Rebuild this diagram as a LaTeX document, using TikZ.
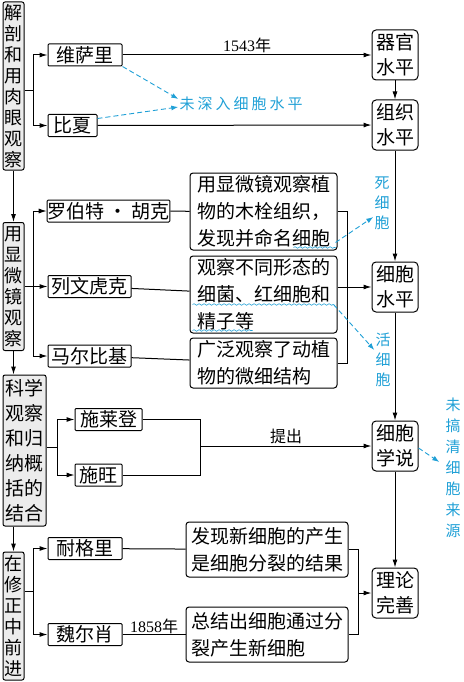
\documentclass[tikz,border=0pt]{standalone}
\usepackage{fontspec}
\setmainfont{Noto Sans CJK SC}
\newfontfamily\numfont{Liberation Serif}
\newfontfamily\notefont[LetterSpace=20]{Noto Sans CJK SC}
\usetikzlibrary{arrows.meta,calc,decorations.pathmorphing}
\definecolor{notecol}{RGB}{32,160,214}

\tikzset{
  colbox/.style={draw,line width=1pt,rounded corners=2pt,fill=gray!15,inner sep=0pt,align=center,minimum width=21pt,font=\fontsize{18}{21}\selectfont},
  namebox/.style={draw,line width=1pt,rounded corners=1pt,inner sep=0pt,minimum height=22pt,font=\fontsize{19}{22}\selectfont},
  descbox/.style={draw,line width=1pt,rounded corners=3pt,inner sep=0pt,align=left,minimum width=147pt,font=\fontsize{19}{27}\selectfont},
  lvlbox/.style={draw,line width=1pt,rounded corners=4pt,inner sep=0pt,align=center,minimum width=46pt,minimum height=50pt,font=\fontsize{19}{25}\selectfont},
  notetext/.style={text=notecol,font=\notefont\fontsize{15}{20}\selectfont,align=center,inner sep=1pt},
  lbl/.style={font=\fontsize{16}{18}\selectfont,inner sep=2pt},
  link/.style={line width=1pt},
  arr/.style={line width=1pt,-{Latex[length=8pt,width=5pt]}},
  hint/.style={notecol,line width=0.9pt,dash pattern=on 5pt off 3pt,-{Latex[length=7pt,width=5pt]}},
  wave/.style={notecol,line width=0.6pt,decorate,decoration={snake,amplitude=0.8pt,segment length=5pt}},
}

\begin{document}
\begin{tikzpicture}[x=1pt,y=-1pt]
\useasboundingbox (0,0) rectangle (463,682);

% left column
\node[colbox,minimum height=168pt] (eye) at (13.5,86) {解\\剖\\和\\用\\肉\\眼\\观\\察};
\node[colbox,minimum height=128pt] (scope) at (13.5,286.5) {用\\显\\微\\镜\\观\\察};
\node[colbox,minimum height=151pt,minimum width=43pt,font=\fontsize{19}{25}\selectfont] (induct) at (24.5,450.5) {科学\\观察\\和归\\纳概\\括的\\结合};
\node[colbox,minimum height=128pt] (revise) at (13.5,616) {在\\修\\正\\中\\前\\进};

\draw[arr] (eye) -- (scope);
\draw[arr] (scope.south) -- (scope.south |- induct.north);
\draw[arr] (revise.north |- induct.south) -- (revise);

% scientists
\node[namebox,minimum width=74pt] (vesal) at (85,55) {维萨里};
\node[namebox,minimum width=49pt] (bichat) at (72.5,125.5) {比夏};
\node[namebox,minimum width=121pt] (hooke) at (108.5,211) {罗伯特 · 胡克};
\node[namebox,minimum width=83pt] (leeuw) at (89.5,286.5) {列文虎克};
\node[namebox,minimum width=83pt] (malpi) at (89.5,356) {马尔比基};
\node[namebox,minimum width=67pt] (schleiden) at (108.5,419.5) {施莱登};
\node[namebox,minimum width=47pt] (schwann) at (98.5,475) {施旺};
\node[namebox,minimum width=74pt] (naegeli) at (85,548.5) {耐格里};
\node[namebox,minimum width=74pt] (virchow) at (85,634.5) {魏尔肖};

% findings
\node[descbox,minimum height=77pt] (dHooke) at (263.5,211.5) {用显微镜观察植\\物的木栓组织，\\发现并命名细胞};
\node[descbox,minimum height=77pt] (dLeeuw) at (263.5,294.5) {观察不同形态的\\细菌、红细胞和\\精子等};
\node[descbox,minimum height=50pt] (dMalpi) at (263.5,363) {广泛观察了动植\\物的微细结构};
\node[descbox,minimum height=55pt,minimum width=162pt] (dNaegeli) at (267,549.5) {发现新细胞的产生\\是细胞分裂的结果};
\node[descbox,minimum height=55pt,minimum width=162pt] (dVirchow) at (267,634.5) {总结出细胞通过分\\裂产生新细胞};

% levels
\node[lvlbox] (organ) at (395,55) {器官\\水平};
\node[lvlbox] (tissue) at (395,125) {组织\\水平};
\node[lvlbox] (cell) at (395,287) {细胞\\水平};
\node[lvlbox] (theory) at (395,446) {细胞\\学说};
\node[lvlbox] (refined) at (395,593) {理论\\完善};

\draw[arr] (organ) -- (tissue);
\draw[arr] (tissue) -- (cell);
\draw[arr] (cell) -- (theory);
\draw[arr] (theory) -- (refined);

% branches
\coordinate (j1) at ($(eye.east |- vesal)!0.5!(eye.east |- bichat)+(9,0)$);
\draw[link] (eye.east |- j1) -- (j1);
\draw[arr] (j1) |- (vesal);
\draw[arr] (j1) |- (bichat);

\draw[link] (scope.east) -- ++(9,0) coordinate (j2);
\draw[arr] (j2) |- (hooke);
\draw[arr] (j2) -- (leeuw);
\draw[arr] (j2) |- (malpi);

\coordinate (j3) at ($(induct.east |- schleiden)!0.5!(induct.east |- schwann)+(11,0)$);
\draw[link] (induct.east |- j3) -- (j3);
\draw[arr] (j3) |- (schleiden);
\draw[arr] (j3) |- (schwann);

\coordinate (j4) at ($(revise.east |- naegeli)!0.5!(revise.east |- virchow)+(9,0)$);
\draw[link] (revise.east |- j4) -- (j4);
\draw[arr] (j4) |- (naegeli);
\draw[arr] (j4) |- (virchow);

% to the levels
\draw[arr] (vesal) -- node[above,lbl]{{\numfont 1543}年} (organ);
\draw[arr] (bichat) -- (tissue);

\draw[link] (hooke) -- (dHooke);
\draw[link] (leeuw) -- (dLeeuw);
\draw[link] (malpi) -- (dMalpi);
\draw[link] (dHooke.east) -- ++(10,0) coordinate (k1) |- (dMalpi.east);
\draw[arr] (dLeeuw.east |- cell) -- (cell);

\draw[link] (schleiden.east) -- ++(58,0) coordinate (k2) |- (schwann.east);
\draw[arr] (k2 |- theory) -- node[above,lbl]{提出} (theory);

\draw[link] (naegeli) -- (dNaegeli);
\draw[link] (virchow) -- node[above,lbl,inner sep=0.5pt]{{\numfont 1858}年} (dVirchow);
\draw[link] (dNaegeli.east) -- ++(10,0) coordinate (k3) |- (dVirchow.east);
\draw[arr] (k3 |- refined) -- (refined);

% blue remarks
\node[notetext] (nLevel) at (241,104) {未深入细胞水平};
\node[notetext] (nDead) at (382,203) {死\\细\\胞};
\node[notetext] (nLive) at (383,360) {活\\细\\胞};
\node[notetext,font=\notefont\fontsize{15}{21}\selectfont] (nSrc) at (453,468) {未\\搞\\清\\细\\胞\\来\\源};

\draw[hint] (vesal.south east) -- ([yshift=5pt]nLevel.west);
\draw[hint] ([yshift=7pt]bichat.east) -- ([yshift=-3pt]nLevel.west);
\draw[hint] ([shift={(-2pt,8pt)}]dHooke.south east) -- ([yshift=-14pt]nDead.west);
\draw[hint] ([shift={(-4pt,29pt)}]dLeeuw.south east) -- ([yshift=10pt]nLive.west);
\draw[hint] ([yshift=-2pt]theory.east) -- ([shift={(-5pt,6pt)}]nSrc.west);

\draw[wave] ([shift={(-44pt,3pt)}]dHooke.south east) -- ([shift={(-2pt,3pt)}]dHooke.south east);
\draw[wave] ([shift={(3pt,29pt)}]dLeeuw.south west) -- ([shift={(-4pt,29pt)}]dLeeuw.south east);
\draw[wave] ([shift={(3pt,3pt)}]dLeeuw.south west) -- ([shift={(63pt,3pt)}]dLeeuw.south west);
\end{tikzpicture}
\end{document}
